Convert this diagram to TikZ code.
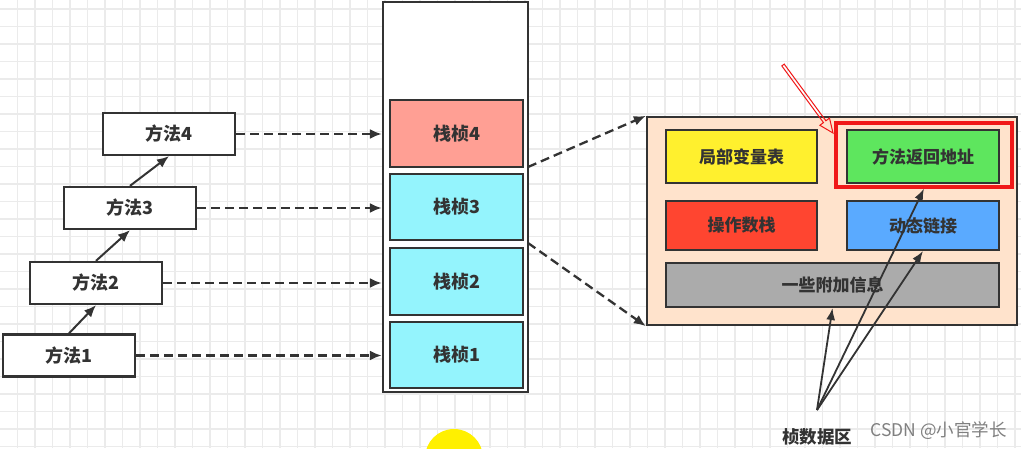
\documentclass[tikz,border=0pt]{standalone}
\usepackage{fontspec}
\newfontfamily\cjk{Noto Sans CJK SC}
\usetikzlibrary{arrows.meta,calc}
\definecolor{ink}{HTML}{333333}
\definecolor{gridc}{HTML}{EBEBEB}
\definecolor{framered}{HTML}{FF9F94}
\definecolor{framecyan}{HTML}{94F4FD}
\definecolor{peach}{HTML}{FFE3CC}
\definecolor{lvyellow}{HTML}{FFF02E}
\definecolor{ragreen}{HTML}{5EE65E}
\definecolor{osred}{HTML}{FF4530}
\definecolor{dlblue}{HTML}{5AAAFF}
\definecolor{exgray}{HTML}{ABABAB}
\definecolor{hlred}{HTML}{F01818}
\definecolor{sunny}{HTML}{FFF000}
\tikzset{
  box/.style={draw=ink, line width=2.3pt, rectangle, inner sep=0pt, anchor=center,
    font=\cjk\bfseries\fontsize{18}{18}\selectfont, text=ink},
  methodbox/.style={box, fill=white, minimum width=132pt, minimum height=42pt},
  framebox/.style={box, minimum width=133pt, minimum height=66pt},
  partbox/.style={box, line width=2pt, font=\cjk\bfseries\fontsize{17}{17}\selectfont},
  solidarrow/.style={draw=ink, line width=2pt, -{Latex[length=12pt,width=10pt]}},
  dasharrow/.style={draw=ink, line width=2.3pt, dash pattern=on 9pt off 5pt, -{Latex[length=12pt,width=10pt]}},
  thinarrow/.style={draw=ink, line width=1.8pt, -{Latex[length=12pt,width=9pt]}},
}
\begin{document}
\begin{tikzpicture}[x=1pt,y=-1pt]
\useasboundingbox (0,0) rectangle (1021,448);
\fill[white] (0,0) rectangle (1021,448);
% grid
\foreach \i in {0,...,58} {\draw[gridc, line width=1.2pt] ({17.5+17.5*\i},0) -- ({17.5+17.5*\i},448);}
\foreach \j in {0,...,25} {\draw[gridc, line width=1.2pt] (0,{9+17.5*\j}) -- (1021,{9+17.5*\j});}
% yellow circle
\fill[sunny] (454,458) circle (29);

% method boxes
\node[methodbox] (m4) at (169,134) {方法4};
\node[methodbox] (m3) at (130,208) {方法3};
\node[methodbox] (m2) at (96,283) {方法2};
\node[methodbox] (m1) at (69,355.5) {方法1};
\draw[solidarrow] (m1.north) -- (m2.south);
\draw[solidarrow] (m2.north) -- (m3.south);
\draw[solidarrow] (m3.north) -- (m4.south);

% stack
\node[box, fill=white, minimum width=145pt, minimum height=390pt] (stk) at (455.5,197) {};
\node[framebox, fill=framered, minimum height=67pt] (f4) at (456.5,133.5) {栈桢4};
\node[framebox, fill=framecyan] (f3) at (456.5,207) {栈桢3};
\node[framebox, fill=framecyan, minimum height=67pt] (f2) at (456.5,281.5) {栈桢2};
\node[framebox, fill=framecyan] (f1) at (456.5,355) {栈桢1};

\draw[dasharrow] (m4.east) -- (m4.east -| stk.west);
\draw[dasharrow] (m3.east) -- (m3.east -| stk.west);
\draw[dasharrow] (m2.east) -- (m2.east -| stk.west);
\draw[dasharrow] (m1.east) -- (m1.east -| stk.west);

% frame detail panel
\node[box, fill=peach, minimum width=370pt, minimum height=208pt] (panel) at (832,221) {};
\node[partbox, fill=lvyellow, minimum width=151pt, minimum height=53pt] (lv) at (741.5,156.5) {局部变量表};
\node[partbox, fill=ragreen, minimum width=152pt, minimum height=53pt] (ra) at (923,156.5) {方法返回地址};
\node[partbox, fill=osred, minimum width=151pt, minimum height=49pt] (os) at (741.5,225.5) {操作数栈};
\node[partbox, fill=dlblue, minimum width=152pt, minimum height=49pt] (dl) at (923,225.5) {动态链接};
\node[partbox, fill=exgray, minimum width=333pt, minimum height=44pt] (ex) at (832.5,285) {一些附加信息};
\node[draw=hlred, line width=3.2pt, minimum width=176pt, minimum height=64pt, inner sep=0pt] (hl) at (924,155) {};

\coordinate (s4) at (528,167);
\coordinate (s3) at (528,243);
\draw[dasharrow] (s4) -- (panel.north west);
\draw[dasharrow] (s3) -- (panel.south west);

% frame data label
\node[font=\cjk\bfseries\fontsize{17.5}{17.5}\selectfont, text=ink] (fd) at (817,437) {桢数据区};
\coordinate (apex) at (817,410);
\draw[thinarrow] (apex) -- (ex.south);
\draw[thinarrow] (apex) -- (hl.south);
\draw[thinarrow] (apex) -- (dl.south);

% red pointer arrow
\draw[hlred, line width=1pt, line join=miter] (781.8,65.9) -- (823.5,122.6) -- (819.9,125.3) -- (833,133) -- (829.5,118.1) -- (825.9,120.8) -- (784.2,64.1) -- cycle;

% watermark
\node[font=\cjk\fontsize{17.5}{17.5}\selectfont, text=black!50, anchor=west] (wm) at (867,431) {CSDN @小官学长};
\end{tikzpicture}
\end{document}
